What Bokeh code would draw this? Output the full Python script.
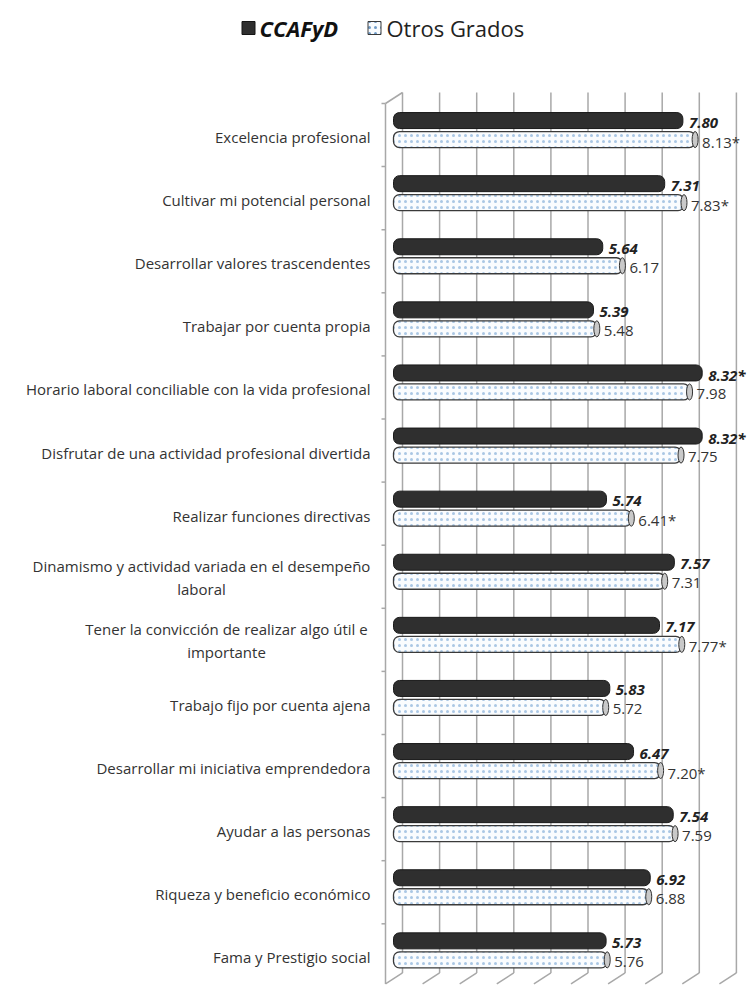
from bokeh.plotting import figure
from bokeh.models import Range1d
from bokeh.core.properties import value
from bokeh.embed import file_html
from bokeh.resources import INLINE

# ---------------- data ----------------
categories = [
    "Excelencia profesional",
    "Cultivar mi potencial personal",
    "Desarrollar valores trascendentes",
    "Trabajar por cuenta propia",
    "Horario laboral conciliable con la vida profesional",
    "Disfrutar de una actividad profesional divertida",
    "Realizar funciones directivas",
    "Dinamismo y actividad variada en el desempeño\nlaboral",
    "Tener la convicción de realizar algo útil e\nimportante",
    "Trabajo fijo por cuenta ajena",
    "Desarrollar mi iniciativa emprendedora",
    "Ayudar a las personas",
    "Riqueza y beneficio económico",
    "Fama y Prestigio social",
]
ccafyd = [7.80, 7.31, 5.64, 5.39, 8.32, 8.32, 5.74, 7.57, 7.17, 5.83, 6.47, 7.54, 6.92, 5.73]
otros = [8.13, 7.83, 6.17, 5.48, 7.98, 7.75, 6.41, 7.31, 7.77, 5.72, 7.20, 7.59, 6.88, 5.76]
ccafyd_sig = ["", "", "", "", "*", "*", "", "", "", "", "", "", "", ""]
otros_sig = ["*", "*", "", "", "", "", "*", "", "*", "", "*", "", "", ""]
series_names = ["CCAFyD", "Otros Grados"]
grid_values = [0, 1, 2, 3, 4, 5, 6, 7, 8, 9]

# ---------------- geometry (styling) ----------------
W, H = 750, 985
OFF = 0                       # page offset of the figure in the screenshot
SX, SY = 37.1, 63.1           # px per value unit / per category
X0_PX, Y0_PX = 393.0, 134.55  # screenshot px of value 0 (bar plane) / first category centre


def dx(px):
    return px / SX


def dy(px):
    return px / SY


def X(px):
    return (px - X0_PX) / SX


def Y(py):
    return (py - Y0_PX) / SY


n = len(categories)
idx = list(range(n))

p = figure(width=W, height=H, output_backend="svg", toolbar_location=None,
           x_range=Range1d(X(OFF), X(OFF + W)), y_range=Range1d(Y(OFF + H), Y(OFF)),
           x_axis_type=None, y_axis_type=None, min_border=0,
           outline_line_color=None, background_fill_color="white")

FRONT = -dx(8)            # front wall x
BACK = FRONT + dx(17)     # back wall x
BACK_DY = -dy(11)
TOP = -0.5
FLOOR = n - 0.5 - dy(3)
GRID_C = "#a8a8a8"

# back wall gridlines
p.segment(x0=[v + BACK for v in grid_values], y0=[TOP + BACK_DY] * len(grid_values),
          x1=[v + BACK for v in grid_values], y1=[FLOOR + BACK_DY] * len(grid_values),
          line_color=GRID_C, line_width=1.5)
# floor slants
p.segment(x0=[v + FRONT for v in grid_values], y0=[FLOOR] * len(grid_values),
          x1=[v + BACK for v in grid_values], y1=[FLOOR + BACK_DY] * len(grid_values),
          line_color=GRID_C, line_width=1.5)
# left wall
p.segment(x0=[FRONT, FRONT], y0=[TOP, TOP], x1=[FRONT, BACK], y1=[FLOOR, TOP + BACK_DY],
          line_color=GRID_C, line_width=1.5)
bounds = [i - 0.5 for i in range(n + 1)]
p.segment(x0=[FRONT - dx(4)] * len(bounds), y0=bounds, x1=[FRONT] * len(bounds), y1=bounds,
          line_color=GRID_C, line_width=1.5)

# bars
BAR_H = dy(16)
y_black = [i - dy(14.5) for i in idx]
y_white = [i + dy(4.5) for i in idx]

p.hbar(y=y_black, left=0, right=ccafyd, height=BAR_H, fill_color="#2f2f2f",
       line_color="#1a1a1a", line_width=1, border_radius=6)
p.hbar(y=y_white, left=0, right=otros, height=BAR_H, fill_color="#fafcfe",
       hatch_pattern="dot", hatch_color="#aac7e4", hatch_scale=6, hatch_weight=1.0,
       line_color="#3a3a3a", line_width=1.3, border_radius=6)
p.ellipse(x=otros, y=y_white, width=6, height=16, width_units="screen", height_units="screen",
          fill_color="#c9c9c9", line_color="#333333", line_width=1)

# value labels
p.text(x=[v + dx(6) for v in ccafyd], y=[y + dy(2) for y in y_black],
       text=[f"{v:.2f}{s}" for v, s in zip(ccafyd, ccafyd_sig)],
       text_font=value("Open Sans"), text_font_style="bold italic", text_font_size="15px",
       text_baseline="middle", text_align="left", text_color="#222222")
p.text(x=[v + dx(7) for v in otros], y=[y + dy(2) for y in y_white],
       text=[f"{v:.2f}{s}" for v, s in zip(otros, otros_sig)],
       text_font=value("Open Sans"), text_font_size="15px",
       text_baseline="middle", text_align="left", text_color="#333333")

# category labels
single = [i for i in idx if "\n" not in categories[i]]
multi = [i for i in idx if "\n" in categories[i]]
multi_center_px = {7: 201, 8: 226}
p.text(x=[X(370)] * len(single), y=[i + dy(2) for i in single],
       text=[categories[i] for i in single],
       text_font=value("Open Sans"), text_font_size="15px",
       text_baseline="middle", text_align="right", text_color="#333333")
p.text(x=[X(multi_center_px[i]) for i in multi], y=[i + dy(1) for i in multi],
       text=[categories[i] for i in multi],
       text_font=value("Open Sans"), text_font_size="15px", text_line_height=1.15,
       text_baseline="middle", text_align="center", text_color="#333333")

# legend
LY = Y(27.5)
p.scatter(x=[X(248)], y=[LY], marker="square", size=13, fill_color="#2f2f2f", line_color="#151515")
p.scatter(x=[X(374)], y=[LY], marker="square", size=13, fill_color="#f8fbfe",
          hatch_pattern="dot", hatch_color="#6f9bc8", hatch_scale=6, hatch_weight=1.5,
          line_color="#3a3a3a", line_width=1)
p.text(x=[X(259)], y=[LY], text=[series_names[0]], text_font=value("Open Sans"),
       text_font_style="bold italic", text_font_size="22px", text_baseline="middle",
       text_color="#111111")
p.text(x=[X(386)], y=[LY], text=[series_names[1]], text_font=value("Open Sans"),
       text_font_size="22px", text_baseline="middle", text_color="#222222")

open("out.html", "w").write(file_html(p, INLINE))
